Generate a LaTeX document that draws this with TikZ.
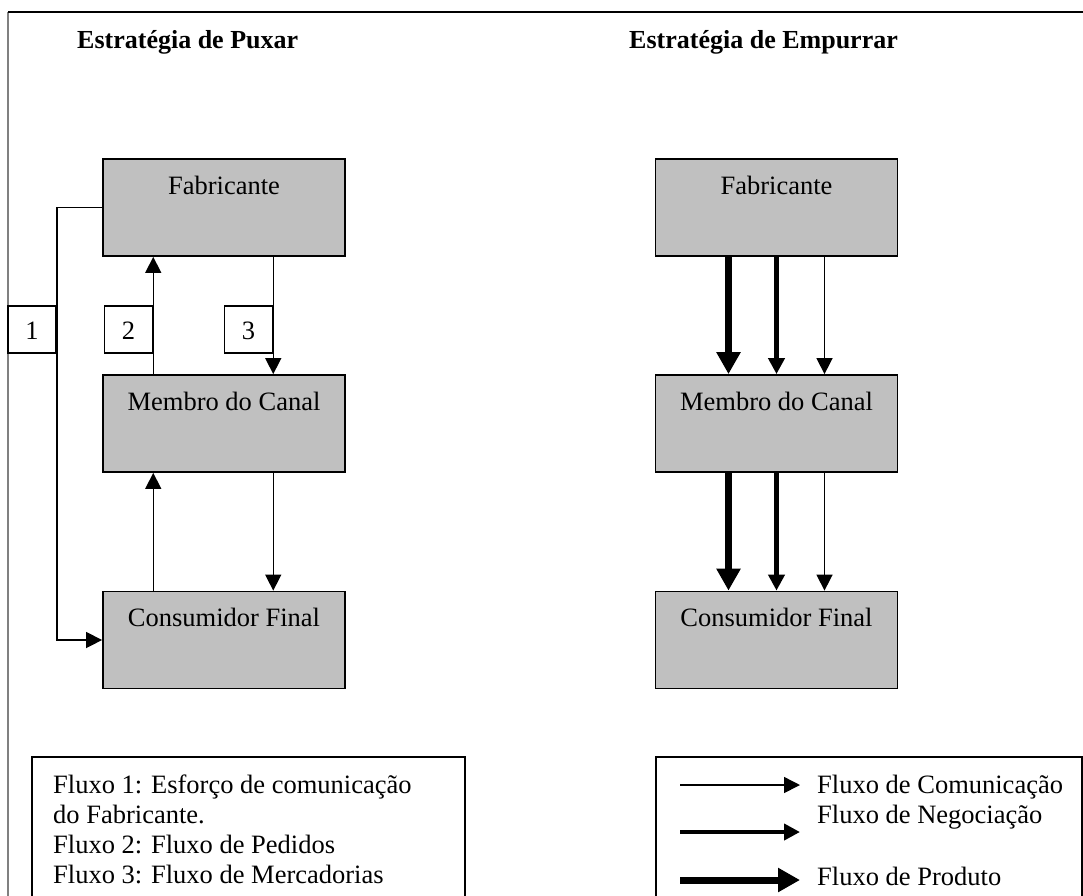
\documentclass[tikz,border=0pt]{standalone}
\usepackage{fontspec}
\setmainfont{Liberation Serif}
\usetikzlibrary{arrows.meta}

\definecolor{boxgray}{HTML}{C0C0C0}
\definecolor{framegray}{HTML}{808080}

\begin{document}
\begin{tikzpicture}[
    x=1pt, y=-1pt,
    every node/.style={font=\fontsize{26.5}{30}\selectfont},
    stagebox/.style={draw, line width=1.8pt, fill=boxgray, inner sep=0pt,
      minimum width=242pt, text height=35pt, text depth=62pt},
    numbox/.style={draw, line width=1.5pt, fill=white, inner sep=0pt,
      minimum width=48pt, minimum height=47pt, text height=19pt, text depth=0pt},
    heading/.style={anchor=base west, inner sep=0pt,
      font=\fontsize{26}{30}\selectfont\bfseries},
    legtext/.style={anchor=base west, inner sep=0pt},
    flowthin/.style={line width=1.5pt, -{Triangle[length=16pt,width=16pt]}},
    flowmid/.style={line width=4.5pt, -{Triangle[length=16pt,width=16pt]}},
    flowthick/.style={line width=7pt, -{Triangle[length=22pt,width=23pt]}},
  ]
  \clip (0,0) rectangle (1083,895);

  % outer frame (left and top edges)
  \draw[framegray, line width=1.5pt] (8,900) -- (8,12);
  \draw[black, line width=1.5pt] (8,12) -- (1090,12);

  % headings
  \node[heading] (tpull) at (77,48) {Estratégia de Puxar};
  \node[heading] (tpush) at (629,48) {Estratégia de Empurrar};

  % pull strategy column
  \node[stagebox] (fabL) at (224,207.5) {Fabricante};
  \node[stagebox] (memL) at (224,423.5) {Membro do Canal};
  \node[stagebox] (conL) at (224,640) {Consumidor Final};

  % flow number labels
  \node[numbox] (n1) at (32,329.5) {1};
  \node[numbox] (n2) at (128.5,329.5) {2};
  \node[numbox] (n3) at (248.5,329.5) {3};

  % flow 1: manufacturer straight to the final consumer
  \draw[flowthin] (fabL.west) -- (n1.east |- fabL.west) |- (conL.west);
  % flow 2: orders going up
  \draw[flowthin] (memL.north -| n2.east) -- (fabL.south -| n2.east);
  \draw[flowthin] (conL.north -| n2.east) -- (memL.south -| n2.east);
  % flow 3: goods going down
  \draw[flowthin] (fabL.south -| n3.east) -- (memL.north -| n3.east);
  \draw[flowthin] (memL.south -| n3.east) -- (conL.north -| n3.east);

  % push strategy column
  \node[stagebox] (fabR) at (776.5,207.5) {Fabricante};
  \node[stagebox] (memR) at (776.5,423.5) {Membro do Canal};
  \node[stagebox] (conR) at (776.5,640) {Consumidor Final};

  \draw[flowthick] ([xshift=-48pt]fabR.south) -- ([xshift=-48pt]memR.north);
  \draw[flowmid]   (fabR.south) -- (memR.north);
  \draw[flowthin]  ([xshift=48pt]fabR.south) -- ([xshift=48pt]memR.north);
  \draw[flowthick] ([xshift=-48pt]memR.south) -- ([xshift=-48pt]conR.north);
  \draw[flowmid]   (memR.south) -- (conR.north);
  \draw[flowthin]  ([xshift=48pt]memR.south) -- ([xshift=48pt]conR.north);

  % legend of the pull strategy
  \draw[line width=1.5pt] (32,905) -- (32,757) -- (465,757) -- (465,905);
  \node[legtext] (l1) at (53,793) {Fluxo 1: Esforço de comunicação};
  \node[legtext] (l2) at (53,823) {do Fabricante.};
  \node[legtext] (l3) at (53,853) {Fluxo 2: Fluxo de Pedidos};
  \node[legtext] (l4) at (53,883) {Fluxo 3: Fluxo de Mercadorias};

  % legend of the push strategy
  \draw[line width=1.5pt] (656,905) -- (656,757) -- (1082,757) -- (1082,905);
  \coordinate (a1s) at (680,785); \coordinate (a1e) at (800,785);
  \coordinate (a2s) at (680,832); \coordinate (a2e) at (800,832);
  \coordinate (a3s) at (680,880); \coordinate (a3e) at (800,880);
  \draw[flowthin]  (a1s) -- (a1e);
  \draw[flowmid]   (a2s) -- (a2e);
  \draw[flowthick] (a3s) -- (a3e);
  \node[legtext] (r1) at (817,793) {Fluxo de Comunicação};
  \node[legtext] (r2) at (817,823) {Fluxo de Negociação};
  \node[legtext] (r3) at (817,885) {Fluxo de Produto};
\end{tikzpicture}
\end{document}
